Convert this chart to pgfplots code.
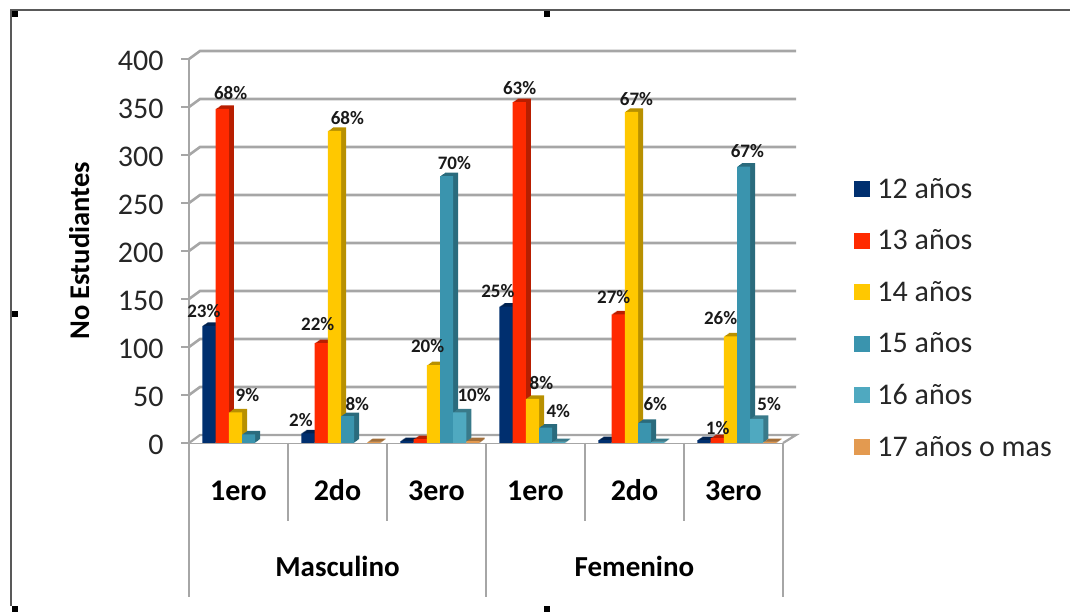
\documentclass[border=0pt]{standalone}
\usepackage{fontspec}
\setmainfont{Carlito}
\usepackage{pgfplots}
\usepackage{pgfplotstable}
\pgfplotsset{compat=1.18}
\definecolor{c12}{RGB}{0,47,111}
\definecolor{c13}{RGB}{255,42,0}
\definecolor{c14}{RGB}{255,200,0}
\definecolor{c15}{RGB}{58,148,174}
\definecolor{c16}{RGB}{79,169,192}
\definecolor{c17}{RGB}{227,154,80}
\definecolor{gridg}{RGB}{166,166,166}

% values per bar group
\pgfplotstableread{
pos a12 a13 a14 a15 a16 a17
0 122 348 32 9 nan nan
1 10 104 325 28 nan 1
2 2 4 81 278 32 2
3 142 355 46 16 1 nan
4 3 134 345 21 1 nan
5 3 5 111 288 25 1
}\datatab

% percent labels: x, y of the label centre, text
\pgfplotstableread{
x y lab
-0.35 137 23
-0.08 365 68
0.09 50 9
0.63 24 2
0.80 124 22
1.10 338 68
1.20 41 8
1.91 101 20
2.18 292 70
2.38 50 10
2.62 158 25
2.84 370 63
3.06 62 8
3.23 33 4
3.79 152 27
4.02 358 67
4.21 41 6
4.84 16 1
4.87 130 26
5.14 304 67
5.36 41 5
}\labtab

% one series: depth copies in the darker colour, then the front face
\newcommand{\barlayer}[5]{%
  \addplot[ybar, forget plot, bar width=13.2pt, bar shift=#3pt, fill=#2, draw=none,
    xshift=#4pt, yshift=#5pt] table[x=pos, y=#1] {\datatab};}
\newcommand{\barseries}[3]{%
  \barlayer{#1}{#2!72!black}{#3}{5}{3.5}
  \barlayer{#1}{#2!72!black}{#3}{4}{2.8}
  \barlayer{#1}{#2!72!black}{#3}{3}{2.1}
  \barlayer{#1}{#2!72!black}{#3}{2}{1.4}
  \barlayer{#1}{#2!72!black}{#3}{1}{0.7}
  \barlayer{#1}{#2}{#3}{0}{0}}

\begin{document}
\begin{tikzpicture}[x=1pt,y=1pt]
\useasboundingbox (0,0) rectangle (1070,612);
% frame of the pasted picture
\draw[black!65, line width=2pt] (11,6) -- (11,602) -- (1070,602);
\foreach \hx/\hy in {15/598,547/598,15/298,15/3,547/3}
  \fill[black] (\hx-3,\hy-3) rectangle (\hx+3,\hy+3);
\begin{axis}[
  at={(189pt,169pt)}, anchor=south west,
  scale only axis, width=594pt, height=384pt,
  xmin=-0.5, xmax=5.5, ymin=0, ymax=400,
  clip=false,
  axis x line=bottom, axis y line=left,
  axis line style={gridg, line width=2.2pt, -},
  ytick={0,50,...,400},
  ytick style={gridg, line width=2.2pt},
  tick align=outside, major tick length=8pt,
  xtick={0,...,5},
  xticklabels={1ero,2do,3ero,1ero,2do,3ero},
  xtick style={draw=none},
  xticklabel style={font=\fontsize{30}{30}\selectfont\bfseries, yshift=-40pt, anchor=center,
    text height=19pt, text depth=0pt},
  yticklabel style={font=\fontsize{30}{30}\selectfont, text=black!85, xshift=-14pt, yshift=-2pt},
  /pgf/number format/assume math mode=true,
  ylabel={No Estudiantes},
  ylabel style={font=\fontsize{28.5}{28.5}\selectfont\bfseries, at={(axis description cs:-0.185,0.5)}, anchor=center},
  legend style={at={(axis description cs:1.12,0.695)}, anchor=north west, draw=none, fill=none,
    font=\fontsize{30}{30}\selectfont, text=black!85,
    row sep=26pt, inner sep=0pt},
  legend cell align=left,
  legend image code/.code={\fill[#1, draw=none] (0pt,-8pt) rectangle (16pt,8pt); \path[draw=none, fill=none] (0pt,0pt) -- (21pt,0pt);},
]
% back wall, floor and side lines
\pgfplotsinvokeforeach{50,100,...,400}{
  \draw[gridg, line width=2.6pt] (axis cs:-0.5,#1) -- ++(11pt,8pt) -- ++(596pt,0pt);
}
\fill[white] (axis cs:-0.5,0) -- ++(11pt,8pt) -- ++(596pt,0pt) -- ++(-13pt,-8pt) -- cycle;
\draw[gridg, line width=2.2pt] (axis cs:-0.5,0) -- ++(11pt,8pt) -- ++(596pt,0pt) -- ++(-13pt,-8pt);
% separators under the categories
\pgfplotsinvokeforeach{0.5,1.5,3.5,4.5}{
  \draw[gridg, line width=2pt] (axis cs:#1,0) -- ++(0pt,-78pt);
}
\pgfplotsinvokeforeach{-0.5,2.5,5.5}{
  \draw[gridg, line width=2pt] (axis cs:#1,0) -- ++(0pt,-154pt);
}
\node[font=\fontsize{29}{29}\selectfont\bfseries] at (axis cs:1,0) [yshift=-123pt] {Masculino};
\node[font=\fontsize{29}{29}\selectfont\bfseries] at (axis cs:4,0) [yshift=-123pt] {Femenino};

\barseries{a12}{c12}{-29.5}
\barseries{a13}{c13}{-16.3}
\barseries{a14}{c14}{-3.1}
\barseries{a15}{c15}{10.1}
\barseries{a16}{c16}{23.3}
\barseries{a17}{c17}{36.5}

\addplot[only marks, mark=none, forget plot, point meta=explicit symbolic,
  nodes near coords={\pgfplotspointmeta\%},
  every node near coord/.style={font=\fontsize{19}{19}\selectfont\bfseries, text=black!90,
    anchor=center, inner sep=0pt}]
  table[x=x, y=y, meta=lab] {\labtab};

\addlegendimage{c12}\addlegendentry{12 años}
\addlegendimage{c13}\addlegendentry{13 años}
\addlegendimage{c14}\addlegendentry{14 años}
\addlegendimage{c15}\addlegendentry{15 años}
\addlegendimage{c16}\addlegendentry{16 años}
\addlegendimage{c17}\addlegendentry{17 años o mas}
\end{axis}
\end{tikzpicture}
\end{document}
